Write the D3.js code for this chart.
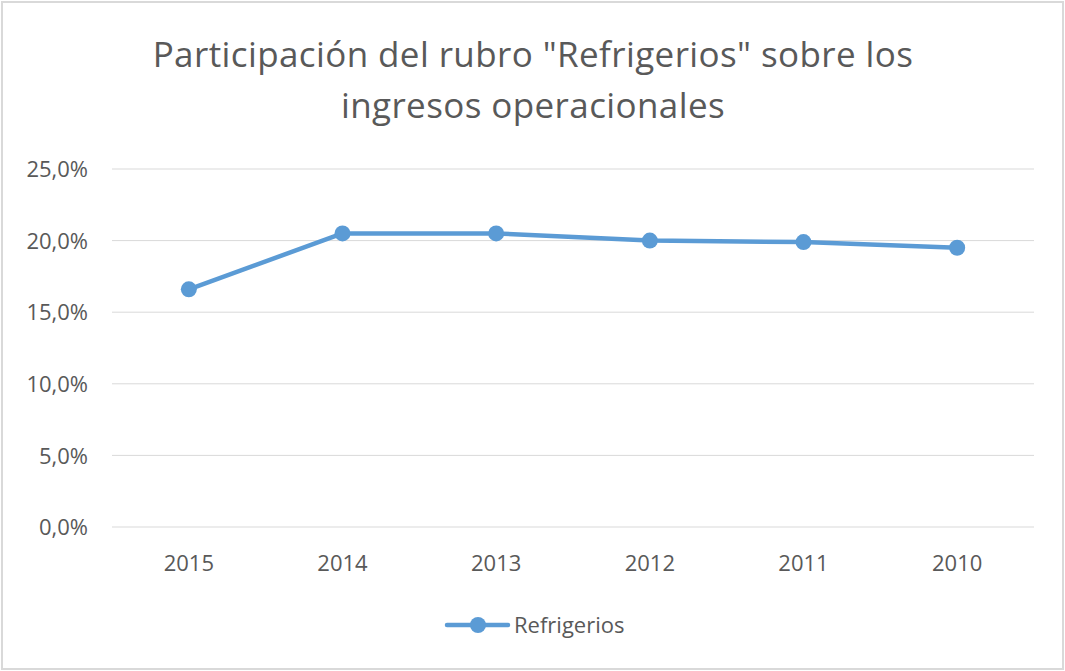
<!DOCTYPE html>
<html>
<head>
<meta charset="utf-8">
<script src="https://cdn.jsdelivr.net/npm/d3@7"></script>
<style>
  body { margin: 0; background: #fff; }
  text { font-family: "Open Sans", "Noto Sans", sans-serif; fill: #595959; }
</style>
</head>
<body>
<div id="plot"></div>
<script>
const years = ["2015", "2014", "2013", "2012", "2011", "2010"];
const refrigerios = [0.166, 0.205, 0.205, 0.200, 0.199, 0.195];
const yTicks = [0, 0.05, 0.10, 0.15, 0.20, 0.25];
const titleLines = ["Participación del rubro \"Refrigerios\" sobre los", "ingresos operacionales"];
const seriesName = "Refrigerios";

const width = 1065, height = 671;
const plotLeft = 112, plotRight = 1034, plotTop = 169, plotBottom = 527;
const blue = "#5B9BD5";

const svg = d3.select("div#plot")
  .append("svg")
  .attr("width", width)
  .attr("height", height);

svg.append("rect")
  .attr("x", 2).attr("y", 2)
  .attr("width", width - 4).attr("height", height - 4)
  .attr("fill", "#fff")
  .attr("stroke", "#d9d9d9")
  .attr("stroke-width", 2);

svg.selectAll(".title")
  .data(titleLines)
  .join("text")
  .attr("class", "title")
  .attr("x", 533)
  .attr("y", (d, i) => 67 + i * 51)
  .attr("text-anchor", "middle")
  .style("font-size", "35px")
  .style("letter-spacing", "0.4px")
  .text(d => d);

const x = d3.scaleBand().domain(years).range([plotLeft, plotRight]);
const y = d3.scaleLinear().domain([0, 0.25]).range([plotBottom, plotTop]);
const fmt = d => d3.format(".1f")(d * 100).replace(".", ",") + "%";

// gridlines
svg.selectAll(".grid")
  .data(yTicks)
  .join("line")
  .attr("class", "grid")
  .attr("x1", plotLeft).attr("x2", plotRight)
  .attr("y1", d => y(d)).attr("y2", d => y(d))
  .attr("stroke", "#d9d9d9")
  .attr("stroke-width", 1);

const yAxis = svg.append("g")
  .attr("transform", `translate(${plotLeft - 24},0)`)
  .call(d3.axisLeft(y).tickValues(yTicks).tickFormat(fmt).tickSize(0).tickPadding(0));
yAxis.select(".domain").remove();
yAxis.selectAll("text").style("font-size", "22px").attr("fill", "#595959").attr("dy", "0.35em");

const xAxis = svg.append("g")
  .attr("transform", `translate(0,${plotBottom})`)
  .call(d3.axisBottom(x).tickSize(0).tickPadding(0));
xAxis.select(".domain").remove();
xAxis.selectAll("text").style("font-size", "22px").attr("fill", "#595959")
  .attr("y", 36).attr("dy", "0.35em");

const cx = d => x(d) + x.bandwidth() / 2;

const line = d3.line()
  .x((d, i) => cx(years[i]))
  .y(d => y(d));

svg.append("path")
  .datum(refrigerios)
  .attr("d", line)
  .attr("fill", "none")
  .attr("stroke", blue)
  .attr("stroke-width", 4.5)
  .attr("stroke-linejoin", "round");

svg.selectAll(".dot")
  .data(refrigerios)
  .join("circle")
  .attr("class", "dot")
  .attr("cx", (d, i) => cx(years[i]))
  .attr("cy", d => y(d))
  .attr("r", 8)
  .attr("fill", blue);

// legend
const legend = svg.append("g").attr("transform", "translate(447,625)");
legend.append("line")
  .attr("x1", 0).attr("x2", 61)
  .attr("stroke", blue).attr("stroke-width", 4.5).attr("stroke-linecap", "round");
legend.append("circle").attr("cx", 31).attr("r", 8).attr("fill", blue);
legend.append("text")
  .attr("x", 67).attr("dy", "0.35em")
  .style("font-size", "22px")
  .text(seriesName);
</script>
</body>
</html>
